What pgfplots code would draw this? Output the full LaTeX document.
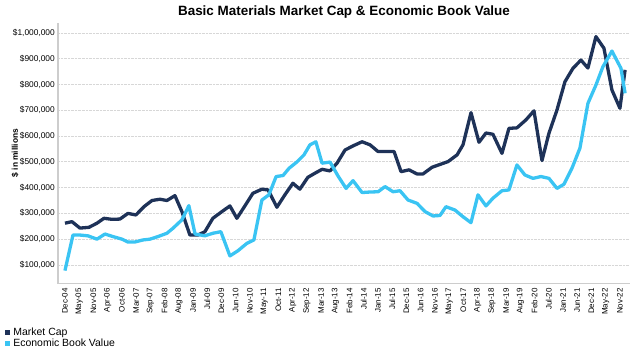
\documentclass[border=0pt]{standalone}
\usepackage{pgfplots}
\pgfplotsset{compat=1.18}
\usepackage{fontspec}
\setmainfont{Liberation Sans}
\definecolor{mcap}{RGB}{30,50,88}
\definecolor{ebv}{RGB}{58,196,243}
\definecolor{axgray}{RGB}{205,205,205}
\definecolor{gridgray}{RGB}{215,215,215}
\begin{document}
\begin{tikzpicture}
\path[use as bounding box] (-58bp,-66.5bp) rectangle (572bp,283.5bp);
\begin{axis}[
  at={(0,0)}, anchor=south west,
  scale only axis,
  width=572bp, height=260.8bp,
  xmin=-2.7, xmax=218.9,
  ymin=28000, ymax=1040000,
  scaled ticks=false,
  axis lines=left,
  axis line style={-, draw=axgray, line width=1.2bp},
  major tick length=0pt,
  ymajorgrids,
  grid style={densely dotted, draw=gridgray, line width=0.8bp},
  ytick={100000,200000,300000,400000,500000,600000,700000,800000,900000,1000000},
  yticklabels={{\$100,000},{\$200,000},{\$300,000},{\$400,000},{\$500,000},{\$600,000},{\$700,000},{\$800,000},{\$900,000},{\$1,000,000}},
  yticklabel style={font=\fontsize{8.4}{10}\selectfont, inner sep=0pt, anchor=east, xshift=-3bp},
  xtick={0,5.5128,...,215.1},
  xticklabels={Dec-04,May-05,Nov-05,Apr-06,Oct-06,Mar-07,Sep-07,Feb-08,Aug-08,Jan-09,Jul-09,Dec-09,Jun-10,Nov-10,May-11,Oct-11,Apr-12,Sep-12,Mar-13,Aug-13,Feb-14,Jul-14,Jan-15,Jul-15,Dec-15,Jun-16,Nov-16,May-17,Oct-17,Apr-18,Sep-18,Mar-19,Aug-19,Feb-20,Jul-20,Jan-21,Jun-21,Dec-21,May-22,Nov-22},
  xticklabel style={font=\fontsize{8}{9.6}\selectfont, inner sep=0pt, yshift=-4.5bp, rotate=90, anchor=east},
  title={Basic Materials Market Cap \& Economic Book Value},
  every axis title/.style={font=\bfseries\fontsize{13.5}{16}\selectfont, at={(axis description cs:0.5,1)}, anchor=center, yshift=11bp},
  ylabel={\$ in millions},
  every axis y label/.style={at={(axis description cs:-0.0752,0.5)}, anchor=center, rotate=90, font=\bfseries\fontsize{8.4}{10}\selectfont},
  legend style={at={(axis description cs:-0.093,-0.167)}, anchor=north west, draw=none, fill=none, inner sep=0pt, font=\fontsize{10.5}{12}\selectfont, row sep=1bp, nodes={inner sep=0.5pt}},
  legend cell align=left,
]
\addlegendimage{legend image code/.code={\fill[mcap] (0bp,-2bp) rectangle (4bp,2bp); \path (7.5bp,0bp);}}
\addlegendentry{Market Cap}
\addlegendimage{legend image code/.code={\fill[ebv] (0bp,-2bp) rectangle (4bp,2bp); \path (7.5bp,0bp);}}
\addlegendentry{Economic Book Value}
\addplot[forget plot, mcap, line width=3.3bp, line join=round] table {
x y
0 262000
2.7 268000
5.8 243000
9.3 246000
12.4 262000
15.1 281000
18.2 277000
21.3 278000
24.4 300000
27.5 294000
30.6 326000
33.7 350000
36.8 355000
39.5 350000
42.6 369000
45.3 307000
48.4 216000
51.5 216000
54.2 229000
57.3 281000
60.8 307000
63.9 329000
66.6 281000
69.7 329000
72.8 378000
76.3 394000
78.7 391000
82.1 324000
85.2 372000
88.3 417000
91.0 394000
94.1 440000
97.2 458000
99.6 471000
102.7 465000
105.4 495000
108.5 546000
111.6 562000
115.1 578000
118.2 566000
121.3 540000
124.8 540000
127.5 540000
130.2 462000
133.3 469000
136.4 453000
138.7 453000
142.2 479000
145.3 490000
148.4 501000
151.9 527000
154.2 566000
157.3 691000
160.4 576000
163.1 612000
165.8 607000
169.3 533000
172.0 630000
175.1 632000
178.6 663000
181.7 698000
184.8 505000
187.5 611000
190.6 701000
193.7 811000
196.8 863000
199.9 895000
202.6 864000
205.7 986000
208.8 941000
211.9 779000
215.0 708000
217.0 857000
};
\addplot[forget plot, ebv, line width=3.3bp, line join=round] table {
x y
0 78000
3.1 216000
5.8 216000
8.9 213000
12.4 200000
15.5 220000
18.6 210000
22.1 200000
24.4 189000
27.1 189000
30.2 197000
32.9 200000
36.0 210000
39.5 223000
41.8 242000
45.3 275000
48.0 330000
50.4 220000
54.2 213000
57.3 223000
60.4 229000
63.9 135000
67.0 155000
70.5 184000
73.2 197000
76.3 352000
79.0 372000
81.8 443000
84.5 447000
86.8 475000
89.9 500000
92.6 527000
94.9 566000
97.2 578000
99.6 495000
102.7 499000
105.8 445000
108.9 397000
111.6 427000
115.1 381000
118.2 383000
121.3 384000
124.0 404000
127.1 384000
129.8 388000
132.9 352000
136.4 339000
139.5 307000
142.6 290000
145.3 292000
147.6 326000
151.1 313000
154.2 287000
157.3 264000
160.0 372000
163.1 329000
165.8 359000
169.3 388000
172.0 391000
175.1 488000
178.2 449000
181.3 436000
184.4 443000
187.5 436000
190.6 397000
193.3 413000
196.4 475000
199.5 553000
202.6 727000
205.7 798000
208.4 869000
211.9 930000
215.4 863000
217.0 766000
};
\end{axis}
\end{tikzpicture}
\end{document}
